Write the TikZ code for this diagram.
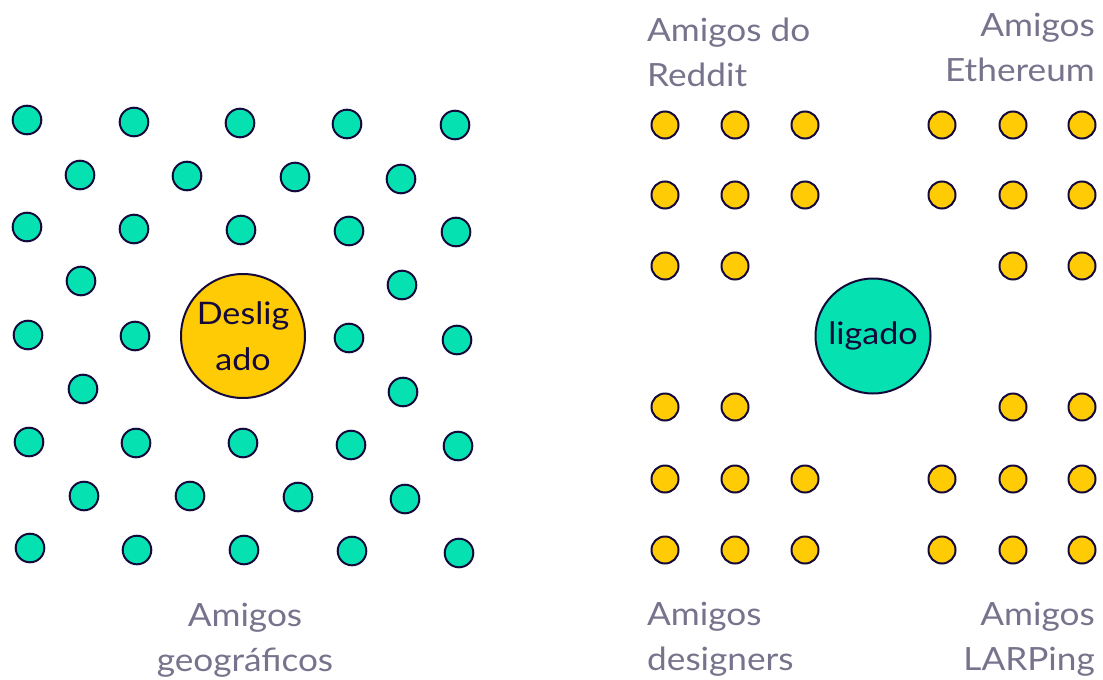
\documentclass[tikz,border=0pt]{standalone}
\usepackage{fontspec}
\setmainfont[FakeStretch=1.1]{Lato}
\definecolor{ink}{HTML}{14093A}
\definecolor{mint}{HTML}{05E1B0}
\definecolor{gold}{HTML}{FFCB05}
\definecolor{labelgray}{HTML}{77738C}
\begin{document}
\begin{tikzpicture}[x=1pt,y=-1pt,
  gdot/.style={circle,draw=ink,line width=2pt,fill=mint,minimum size=28.6pt,inner sep=0pt},
  ydot/.style={circle,draw=ink,line width=2pt,fill=gold,minimum size=27pt,inner sep=0pt},
  hub/.style={circle,draw=ink,line width=2pt,inner sep=0pt,text=ink,align=center,font=\fontsize{31}{46}\selectfont},
  grouplabel/.style={inner sep=0pt,text=labelgray,font=\fontsize{32}{45}\selectfont}]
\useasboundingbox (0,0) rectangle (1103,680);
% left: geographic friends
\foreach \x/\y [count=\i] in {
  27/120,134/122,240/123,347/124,455/125,
  80/175,187/176,295/177,401/179,
  27/227,134/229,241/230,349/231,456/232,
  81/281,402/285,
  28/335,135/336,349/338,457/340,
  83/389,403/392,
  29/442,136/443,243/443,351/445,458/446,
  84/496,190/496,298/497,405/499,
  30/548,137/550,244/550,352/551,459/553}
  \node[gdot] (g\i) at (\x,\y) {};
\node[hub,fill=gold,minimum size=124pt] (off) at (243,336) {Deslig\\ado};
\node[grouplabel,anchor=base,align=center] (geo) at (245,671) {Amigos\\geográficos};
% right: online friends
\foreach \x/\y [count=\i] in {
  665/125,735/125,805/125,665/195,735/195,805/195,665/266,735/266}
  \node[ydot] (r\i) at (\x,\y) {};
\foreach \x/\y [count=\i] in {
  942/125,1013/125,1082/125,942/195,1013/195,1082/195,1013/266,1082/266}
  \node[ydot] (e\i) at (\x,\y) {};
\foreach \x/\y [count=\i] in {
  665/407,735/407,665/479,735/479,805/479,665/550,735/550,805/550}
  \node[ydot] (d\i) at (\x,\y) {};
\foreach \x/\y [count=\i] in {
  1013/407,1082/407,942/479,1013/479,1082/479,942/550,1013/550,1082/550}
  \node[ydot] (l\i) at (\x,\y) {};
\node[hub,fill=mint,minimum size=115pt] (on) at (873,336) {ligado};
\node[grouplabel,anchor=base west,align=left] (reddit) at (647,86) {Amigos do\\Reddit};
\node[grouplabel,anchor=base east,align=right] (eth) at (1095,81) {Amigos\\Ethereum};
\node[grouplabel,anchor=base west,align=left] (des) at (647,670) {Amigos\\designers};
\node[grouplabel,anchor=base east,align=right] (larp) at (1095,670) {Amigos\\LARPing};
\end{tikzpicture}
\end{document}
